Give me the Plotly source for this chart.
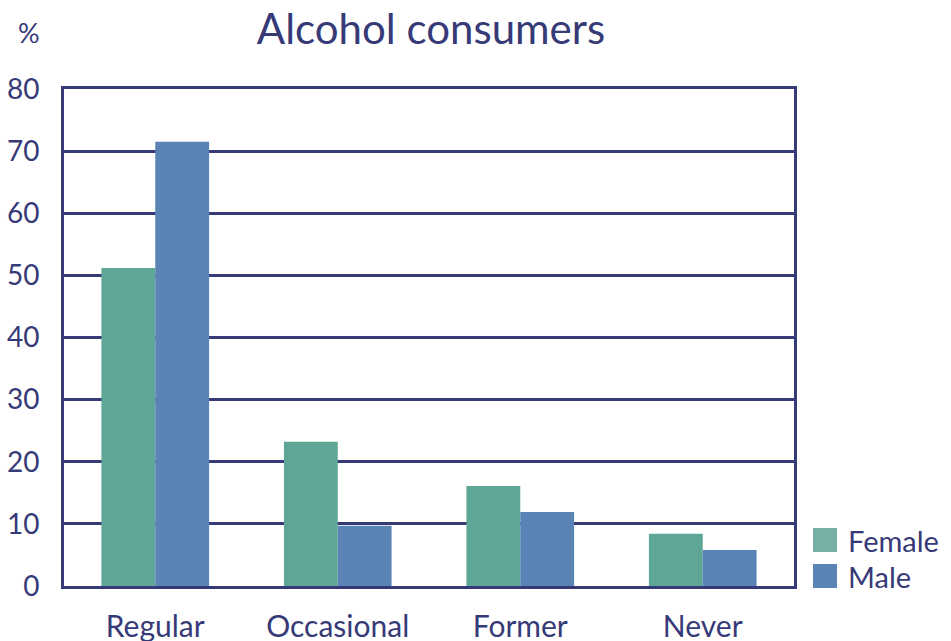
import plotly.graph_objects as go

# Share of alcohol consumers by drinking pattern and sex (%)
categories = ["Regular", "Occasional", "Former", "Never"]
female = [51.2, 23.2, 16.1, 8.4]
male = [71.5, 9.7, 11.9, 5.8]
y_ticks = [0, 10, 20, 30, 40, 50, 60, 70, 80]

INK = "#363a77"
FEMALE_COLOR = "#5ea797"
MALE_COLOR = "#5a84b5"
FONT = "Lato"

fig = go.Figure()
fig.add_trace(go.Bar(name="Female", x=categories, y=female,
                     marker=dict(color=FEMALE_COLOR, line=dict(width=0))))
fig.add_trace(go.Bar(name="Male", x=categories, y=male,
                     marker=dict(color=MALE_COLOR, line=dict(width=0))))

# Legend drawn as square swatches with labels to the right of the plot
legend_items = [("Female", "#77b1a6"), ("Male", MALE_COLOR)]
shapes = []
annotations = []
for i, (label, col) in enumerate(legend_items):
    top = 528 + i * 36
    shapes.append(dict(type="rect", xref="paper", yref="paper",
                       x0=(813 - 64) / 730, x1=(837 - 64) / 730,
                       y0=(586 - top - 24) / 497, y1=(586 - top) / 497,
                       fillcolor=col, line=dict(width=0), layer="above"))
    annotations.append(dict(text=label, xref="paper", yref="paper",
                            x=(846 - 64) / 730, y=(586 - top - 12) / 497,
                            xanchor="left", yanchor="middle", showarrow=False,
                            font=dict(family=FONT, size=29, color=INK)))

annotations.append(dict(text="%", xref="paper", yref="paper",
                        x=(29 - 64) / 730, y=(586 - 33) / 497,
                        xanchor="center", yanchor="middle", showarrow=False,
                        font=dict(family=FONT, size=27, color=INK)))

fig.update_layout(
    width=951, height=641,
    margin=dict(l=64, r=157, t=89, b=55, autoexpand=False),
    paper_bgcolor="white", plot_bgcolor="white",
    barmode="group", bargap=0.41, bargroupgap=0,
    showlegend=False,
    title=dict(text="Alcohol consumers", x=431 / 951, xanchor="center",
               xref="container", y=1 - 29 / 641, yanchor="middle",
               yref="container",
               font=dict(family=FONT, size=42, color=INK)),
    font=dict(family=FONT, color=INK),
    shapes=shapes,
    annotations=annotations,
)
fig.update_xaxes(showline=True, linewidth=3, linecolor=INK, mirror=True,
                 showgrid=False, ticks="", ticklabelstandoff=12,
                 automargin=False,
                 tickfont=dict(family=FONT, size=30, color=INK))
fig.update_yaxes(range=[0, 80], tickvals=y_ticks,
                 ticktext=[str(v) for v in y_ticks],
                 showline=True, linewidth=3, linecolor=INK, mirror=True,
                 showgrid=True, gridcolor=INK, gridwidth=3, zeroline=False,
                 ticks="", ticklabelstandoff=16, automargin=False,
                 tickfont=dict(family=FONT, size=28, color=INK))

fig.write_html("out.html")
